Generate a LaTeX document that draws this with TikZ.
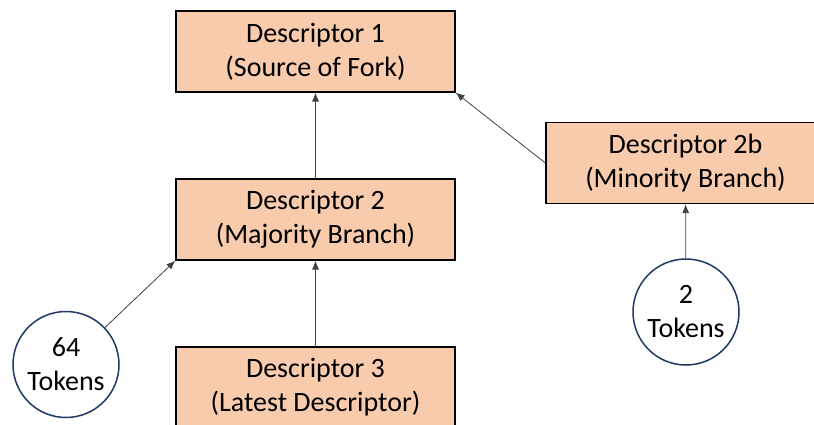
\documentclass[tikz,border=0pt]{standalone}
\usepackage{fontspec}
\setmainfont{Carlito}
\usepackage{tikz}
\usetikzlibrary{arrows.meta}

\definecolor{peach}{HTML}{F8CBAD}
\definecolor{ringblue}{HTML}{203864}

\begin{document}
\begin{tikzpicture}[x=1pt, y=-1pt,
    desc/.style={rectangle, draw=black, line width=1.2pt, fill=peach, minimum width=279pt, minimum height=81pt, inner sep=0pt, align=center, font=\fontsize{28}{34}\selectfont},
    tokens/.style={circle, draw=ringblue, line width=1.5pt, fill=white, minimum size=106pt, inner sep=0pt, align=center, font=\fontsize{28}{34}\selectfont},
    link/.style={draw=black!75, line width=0.8pt, -{Latex[length=9pt, width=7pt]}}]
    \useasboundingbox (0,0) rectangle (814,425);
    \node[desc] (d1) at (315.5,51.5) {Descriptor 1\\(Source of Fork)};
    \node[desc] (d2) at (315.5,219.5) {Descriptor 2\\(Majority Branch)};
    \node[desc] (d3) at (315.5,387.5) {Descriptor 3\\(Latest Descriptor)};
    \node[desc] (d2b) at (685.5,163) {Descriptor 2b\\(Minority Branch)};
    \node[tokens] (t64) at (66,364.5) {64\\Tokens};
    \node[tokens] (t2) at (686,312) {2\\Tokens};
    % chain of descriptors
    \draw[link] (d2) -- (d1);
    \draw[link] (d3) -- (d2);
    \draw[link] (d2b.west) -- (d1.south east);
    % votes
    \draw[link] (t64) -- (d2.south west);
    \draw[link] (t2) -- (d2b);
\end{tikzpicture}
\end{document}
